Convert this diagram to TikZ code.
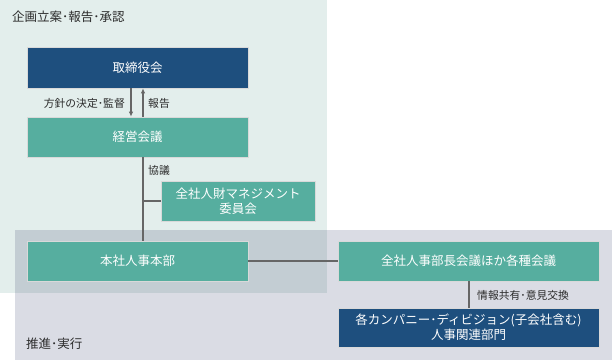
\documentclass[tikz,border=0pt]{standalone}
\usepackage{fontspec}
\setmainfont{Noto Sans CJK JP}
\usetikzlibrary{arrows.meta}
\definecolor{topbg}{HTML}{E3EEEC}
\definecolor{botbg}{HTML}{DADCE4}
\definecolor{ovbg}{HTML}{C3CDD3}
\definecolor{navy}{HTML}{1E4F7E}
\definecolor{teal}{HTML}{56AE9F}
\definecolor{lin}{HTML}{666666}
\definecolor{txt}{HTML}{2B2B2B}
\tikzset{
  box/.style={draw=white!85!black, line width=0.6pt, minimum height=40pt, text=white, font=\fontsize{12.5}{15}\selectfont, align=center, inner sep=0pt},
  navybox/.style={box, fill=navy},
  tealbox/.style={box, fill=teal},
  lbl/.style={text=txt, font=\fontsize{10.8}{12}\selectfont, inner sep=0pt},
  area/.style={text=txt, font=\fontsize{12.5}{14}\selectfont, inner sep=0pt, anchor=west},
  conn/.style={draw=lin, line width=1.2pt},
  arr/.style={conn, -{Latex[length=5pt,width=4.5pt]}}
}
\begin{document}
\begin{tikzpicture}[x=1pt,y=-1pt]
\useasboundingbox (0,0) rectangle (612,360);
\fill[topbg] (0,0) rectangle (327,293);
\fill[botbg] (15,230) rectangle (612,360);
\fill[ovbg] (15,230) rectangle (327,293);
\node[area] (t1) at (12,17) {企画立案･報告･承認};
\node[area] (t2) at (26,344) {推進･実行};
\node[navybox, minimum width=221pt, minimum height=41pt] (tori) at (137.5,67.5) {取締役会};
\node[tealbox, minimum width=221pt] (keiei) at (137.5,137) {経営会議};
\node[tealbox, minimum width=154pt] (iin) at (238,201) {全社人財マネジメント\\委員会};
\node[tealbox, minimum width=221pt] (honbu) at (137.5,261) {本社人事本部};
\node[tealbox, minimum width=261pt] (bucho) at (468.5,261) {全社人事部長会議ほか各種会議};
\node[navybox, minimum width=261pt, minimum height=39pt] (comp) at (468.5,327.5) {各カンパニー･ディビジョン(子会社含む)\\人事関連部門};
\draw[arr] (tori.south -| 131,0) -- (keiei.north -| 131,0);
\draw[arr] (keiei.north -| 143,0) -- (tori.south -| 143,0);
\node[lbl, anchor=east] (l1) at (125,103) {方針の決定･監督};
\node[lbl, anchor=west] (l2) at (148,103) {報告};
\draw[conn] (keiei.south -| 143,0) -- (honbu.north -| 143,0);
\coordinate (j) at (143,201);
\draw[conn] (j) -- (iin.west);
\node[lbl, anchor=west] (l3) at (148,170) {協議};
\draw[conn] (honbu.east) -- (bucho.west);
\draw[conn] (bucho.south -| 469,0) -- (comp.north -| 469,0);
\node[lbl, anchor=west] (l4) at (477,295) {情報共有･意見交換};
\end{tikzpicture}
\end{document}
